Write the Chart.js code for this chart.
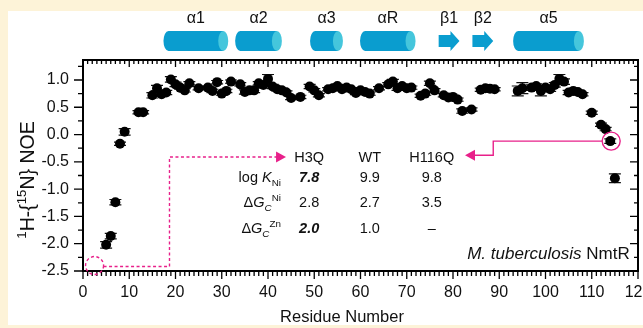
<!DOCTYPE html>
<html>
<head>
<meta charset="utf-8">
<script src="https://cdn.jsdelivr.net/npm/chart.js@4.4.1/dist/chart.umd.min.js"></script>
<style>
  html, body { margin: 0; padding: 0; background: #fdf3d8; overflow: hidden; width: 643px; height: 328px; }
  #panel { position: absolute; left: 8px; top: 11px; width: 640px; height: 314px; background: #fff; }
  #wrap { position: absolute; left: 0; top: 0; width: 643px; height: 328px; }
</style>
</head>
<body>
<div id="panel"></div>
<div id="wrap"><canvas id="myChart" width="643" height="328"></canvas></div>
<script>
// residue numbers and 1H-{15N} NOE values (with errors)
const residues = [5, 6, 7, 8, 9, 12, 13, 15, 16, 17, 18, 19, 20, 21, 22, 23, 25, 27, 28, 29,
  30, 31, 32, 34, 35, 36, 37, 38, 39, 40, 41, 42, 43, 44, 45, 47, 49, 50, 51, 53,
  54, 55, 56, 57, 58, 59, 60, 61, 62, 64, 66, 67, 68, 69, 70, 71, 73, 74, 75, 76,
  78, 79, 80, 81, 82, 84, 86, 87, 88, 89, 94, 95, 97, 98, 99, 100, 101, 102, 103, 104,
  105, 106, 107, 108, 110, 112, 113, 114, 115]
const noe = [-2.02, -1.86, -1.24, -0.17, 0.05, 0.41, 0.41, 0.72, 0.85, 0.74, 0.77, 1.01, 0.92, 0.86, 0.81, 0.94, 0.85, 0.86, 0.80, 0.96,
  0.75, 0.80, 0.97, 0.92, 0.78, 0.81, 0.81, 0.94, 0.91, 1.02, 0.88, 0.83, 0.81, 0.77, 0.67, 0.69, 0.88, 0.81, 0.72, 0.83,
  0.85, 0.89, 0.83, 0.86, 0.83, 0.76, 0.81, 0.78, 0.75, 0.85, 0.92, 0.97, 0.85, 0.89, 0.85, 0.86, 0.71, 0.75, 0.94, 0.81,
  0.72, 0.68, 0.69, 0.64, 0.43, 0.46, 0.82, 0.85, 0.84, 0.83, 0.80, 0.85, 0.86, 0.89, 0.80, 0.86, 0.83, 0.91, 1.02, 0.97,
  0.77, 0.80, 0.78, 0.74, 0.40, 0.18, 0.10, -0.12, -0.80]
const noeErr = [0.06, 0.05, 0.05, 0.03, 0.06, 0.03, 0.03, 0.05, 0.05, 0.04, 0.04, 0.05, 0.04, 0.03, 0.03, 0.03, 0.03, 0.03, 0.03, 0.03,
  0.03, 0.03, 0.03, 0.03, 0.04, 0.04, 0.04, 0.03, 0.03, 0.08, 0.04, 0.03, 0.04, 0.03, 0.03, 0.03, 0.04, 0.03, 0.03, 0.03,
  0.03, 0.03, 0.03, 0.03, 0.03, 0.03, 0.03, 0.03, 0.03, 0.03, 0.03, 0.04, 0.04, 0.03, 0.03, 0.03, 0.03, 0.03, 0.04, 0.03,
  0.03, 0.03, 0.03, 0.03, 0.04, 0.03, 0.03, 0.03, 0.03, 0.03, 0.09, 0.10, 0.05, 0.04, 0.09, 0.04, 0.04, 0.04, 0.08, 0.05,
  0.04, 0.04, 0.03, 0.03, 0.03, 0.03, 0.03, 0.04, 0.08]

const xTicks = [0, 10, 20, 30, 40, 50, 60, 70, 80, 90, 100, 110, 120]
const yTicks = [-2.5, -2.0, -1.5, -1.0, -0.5, 0.0, 0.5, 1.0]

// secondary structure (residue ranges)
const ssNames = ["α1", "α2", "α3", "αR", "β1", "β2", "α5"]
const ssStart = [17.4, 32.9, 49.1, 59.9, 76.9, 84.2, 93.0]
const ssEnd = [31.4, 43.0, 56.2, 71.9, 81.4, 88.7, 108.3]
const ssType = ["helix", "helix", "helix", "helix", "strand", "strand", "helix"]

// inset table
const tableCols = ["H3Q", "WT", "H116Q"]
const logKNi = ["7.8", "9.9", "9.8"]
const dGNi = ["2.8", "2.7", "3.5"]
const dGZn = ["2.0", "1.0", "–"]

const FONT = '"Liberation Sans", Arial, sans-serif'
const PINK = "#e8208a"

function font(size, bold, italic) {
  return (italic ? "italic " : "") + (bold ? "bold " : "") + size + "px " + FONT
}

// draw a run of text pieces (normal / italic / sub / sup) on a baseline
function drawRuns(ctx, runs, x, y, align, size) {
  let w = 0
  const parts = runs.map(r => {
    const small = r.k === "sub" || r.k === "sup"
    const fs = small ? size * 0.68 : size
    ctx.font = font(fs, r.b, r.i)
    const rw = ctx.measureText(r.t).width
    w += rw
    return { t: r.t, f: ctx.font, rw: rw, dy: r.k === "sub" ? size * 0.28 : (r.k === "sup" ? -size * 0.42 : 0) }
  })
  let cx = align === "right" ? x - w : (align === "center" ? x - w / 2 : x)
  ctx.textAlign = "left"
  ctx.textBaseline = "alphabetic"
  parts.forEach(p => {
    ctx.font = p.f
    ctx.fillText(p.t, cx, y + p.dy)
    cx += p.rw
  })
}

const extras = {
  id: "extras",
  beforeDatasetsDraw(chart) {
    const { ctx, scales: { x, y } } = chart
    ctx.save()
    ctx.strokeStyle = "#111"
    ctx.lineWidth = 1.2
    residues.forEach((r, i) => {
      const px = x.getPixelForValue(r)
      const y1 = y.getPixelForValue(noe[i] - noeErr[i])
      const y2 = y.getPixelForValue(noe[i] + noeErr[i])
      ctx.beginPath()
      ctx.moveTo(px, y1); ctx.lineTo(px, y2)
      ctx.moveTo(px - 6, y1); ctx.lineTo(px + 6, y1)
      ctx.moveTo(px - 6, y2); ctx.lineTo(px + 6, y2)
      ctx.stroke()
    })
    ctx.restore()
  },
  afterDraw(chart) {
    const { ctx, chartArea: a, scales: { x, y } } = chart
    ctx.save()

    // frame
    ctx.strokeStyle = "#000"
    ctx.lineWidth = 2
    ctx.strokeRect(a.left, a.top, a.right - a.left, a.bottom - a.top)

    // tick marks
    ctx.lineWidth = 1.3
    ctx.beginPath()
    for (let v = 0; v <= 120; v++) {
      const px = x.getPixelForValue(v)
      const major = v % 10 === 0
      ctx.moveTo(px, a.bottom); ctx.lineTo(px, a.bottom + (major ? 8 : 5))
      ctx.moveTo(px, a.top); ctx.lineTo(px, a.top + (major ? 7 : 4))
    }
    for (let v = -2.5; v <= 1.3; v += 0.25) {
      const py = y.getPixelForValue(v)
      const major = Math.abs(v * 2 - Math.round(v * 2)) < 1e-6
      ctx.moveTo(a.left, py); ctx.lineTo(a.left - (major ? 9 : 5), py)
      ctx.moveTo(a.right, py); ctx.lineTo(a.right - (major ? 8 : 4), py)
    }
    ctx.stroke()

    // dashed pointer from the H3Q site to the table
    ctx.strokeStyle = PINK
    ctx.fillStyle = PINK
    ctx.lineWidth = 1.4
    ctx.setLineDash([3, 2.5])
    const cx1 = x.getPixelForValue(2.5), cy1 = y.getPixelForValue(-2.4)
    ctx.beginPath(); ctx.arc(cx1, cy1, 9, 0, Math.PI * 2); ctx.stroke()
    const vx = x.getPixelForValue(18.7), ty = y.getPixelForValue(-0.41)
    const tip1 = x.getPixelForValue(43.9)
    ctx.beginPath()
    ctx.moveTo(cx1 + 9, cy1 + 1); ctx.lineTo(vx, cy1 + 1); ctx.lineTo(vx, ty); ctx.lineTo(tip1 - 9, ty)
    ctx.stroke()
    ctx.setLineDash([])
    ctx.beginPath(); ctx.moveTo(tip1, ty); ctx.lineTo(tip1 - 10, ty - 5.5); ctx.lineTo(tip1 - 10, ty + 5.5); ctx.closePath(); ctx.fill()

    // solid pointer from the H116Q site
    const cx2 = x.getPixelForValue(114.2), cy2 = y.getPixelForValue(-0.12)
    ctx.beginPath(); ctx.arc(cx2, cy2, 9, 0, Math.PI * 2); ctx.stroke()
    const vx2 = x.getPixelForValue(88.7), ty2 = y.getPixelForValue(-0.38)
    const tip2 = x.getPixelForValue(82.6)
    ctx.beginPath()
    ctx.moveTo(cx2 - 9, cy2); ctx.lineTo(vx2, cy2); ctx.lineTo(vx2, ty2); ctx.lineTo(tip2 + 9, ty2)
    ctx.stroke()
    ctx.beginPath(); ctx.moveTo(tip2, ty2); ctx.lineTo(tip2 + 10, ty2 - 5.5); ctx.lineTo(tip2 + 10, ty2 + 5.5); ctx.closePath(); ctx.fill()

    // table
    ctx.fillStyle = "#111"
    const colX = [48.9, 62.0, 75.4].map(v => x.getPixelForValue(v))
    const rowY = [-0.41, -0.78, -1.23, -1.71].map(v => y.getPixelForValue(v) + 5)
    const fs = 14.5
    tableCols.forEach((t, i) => drawRuns(ctx, [{ t: t }], colX[i], rowY[0], "center", fs))
    const labX = x.getPixelForValue(42.8)
    drawRuns(ctx, [{ t: "log " }, { t: "K", i: true }, { t: "Ni", k: "sub" }], labX, rowY[1], "right", fs)
    drawRuns(ctx, [{ t: "Δ" }, { t: "G", i: true }, { t: "C", k: "sub", i: true }, { t: "Ni", k: "sup" }], labX, rowY[2], "right", fs)
    drawRuns(ctx, [{ t: "Δ" }, { t: "G", i: true }, { t: "C", k: "sub", i: true }, { t: "Zn", k: "sup" }], labX, rowY[3], "right", fs)
    logKNi.forEach((t, i) => drawRuns(ctx, [{ t: t, b: i === 0, i: i === 0 }], colX[i], rowY[1], "center", fs))
    dGNi.forEach((t, i) => drawRuns(ctx, [{ t: t }], colX[i], rowY[2], "center", fs))
    dGZn.forEach((t, i) => drawRuns(ctx, [{ t: t, b: i === 0, i: i === 0 }], colX[i], rowY[3], "center", fs))

    // species label
    drawRuns(ctx, [{ t: "M. tuberculosis", i: true }, { t: " NmtR" }],
      x.getPixelForValue(118.2), y.getPixelForValue(-2.17) + 6, "right", 17)

    // secondary structure cartoon
    const top = 31, bot = 51, mid = (top + bot) / 2, rx = 5
    ssNames.forEach((name, i) => {
      const x1 = x.getPixelForValue(ssStart[i]), x2 = x.getPixelForValue(ssEnd[i])
      if (ssType[i] === "helix") {
        ctx.fillStyle = "#0a9dcf"
        ctx.beginPath()
        ctx.ellipse(x1 + rx, mid, rx, (bot - top) / 2, 0, Math.PI / 2, Math.PI * 1.5)
        ctx.lineTo(x2 - rx, top)
        ctx.lineTo(x2 - rx, bot)
        ctx.closePath()
        ctx.fill()
        ctx.fillStyle = "#45c6dc"
        ctx.beginPath()
        ctx.ellipse(x2 - rx, mid, rx, (bot - top) / 2, 0, 0, Math.PI * 2)
        ctx.fill()
      } else {
        ctx.fillStyle = "#0a9dcf"
        ctx.beginPath()
        ctx.moveTo(x1, mid - 6); ctx.lineTo(x2 - 9, mid - 6); ctx.lineTo(x2 - 9, mid - 10)
        ctx.lineTo(x2, mid); ctx.lineTo(x2 - 9, mid + 10); ctx.lineTo(x2 - 9, mid + 6); ctx.lineTo(x1, mid + 6)
        ctx.closePath()
        ctx.fill()
      }
      ctx.fillStyle = "#111"
      drawRuns(ctx, [{ t: name }], (x1 + x2) / 2, 23, "center", 16)
    })

    // axis titles
    ctx.fillStyle = "#111"
    drawRuns(ctx, [{ t: "Residue Number" }], 342, 322, "center", 16.5)
    ctx.translate(34, 180)
    ctx.rotate(-Math.PI / 2)
    drawRuns(ctx, [{ t: "1", k: "sup" }, { t: "H-{" }, { t: "15", k: "sup" }, { t: "N} NOE" }], 0, 0, "center", 19.5)
    ctx.restore()
  }
}

const myChart = new Chart("myChart", {
  type: "scatter",
  data: {
    datasets: [{
      label: "NOE",
      data: residues.map((r, i) => ({ x: r, y: noe[i] })),
      backgroundColor: "#000",
      borderColor: "#000",
      borderWidth: 0,
      pointRadius: 5,
      pointHoverRadius: 5
    }]
  },
  options: {
    responsive: false,
    animation: false,
    devicePixelRatio: 1,
    layout: { padding: { left: 0, top: 60, right: 3, bottom: 0 } },
    plugins: { legend: { display: false }, tooltip: { enabled: false } },
    scales: {
      x: {
        type: "linear",
        min: 0,
        max: 120,
        grid: { display: false, drawTicks: false },
        border: { display: false },
        afterBuildTicks: s => { s.ticks = xTicks.map(v => ({ value: v })) },
        afterFit: s => { s.height = 57; s.paddingLeft = 0; s.paddingRight = 0 },
        ticks: {
          padding: 12,
          maxRotation: 0,
          color: "#111",
          font: { family: FONT, size: 16 },
          callback: v => String(v)
        }
      },
      y: {
        min: -2.5,
        max: 1.366,
        grid: { display: false, drawTicks: false },
        border: { display: false },
        afterBuildTicks: s => { s.ticks = yTicks.map(v => ({ value: v })) },
        afterFit: s => { s.width = 83; s.paddingTop = 0; s.paddingBottom = 0 },
        ticks: {
          padding: 14,
          color: "#111",
          font: { family: FONT, size: 16 },
          callback: v => v.toFixed(1)
        }
      }
    }
  },
  plugins: [extras]
})
</script>
</body>
</html>
